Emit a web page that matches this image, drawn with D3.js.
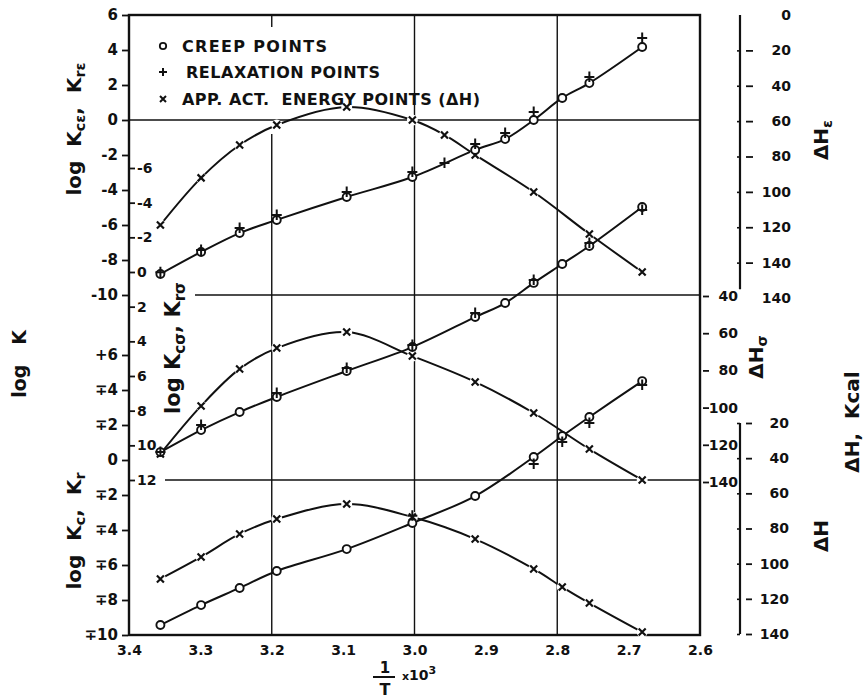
<!DOCTYPE html>
<html>
<head>
<meta charset="utf-8">
<script src="https://cdn.jsdelivr.net/npm/d3@7"></script>
<style>
  body { margin: 0; background: #fff; }
  svg text { font-family: "DejaVu Sans", sans-serif; font-weight: bold; fill: #111; white-space: pre; }
</style>
</head>
<body>
<svg id="chart" width="864" height="700"></svg>
<script>
// Inverse absolute temperature, (1/T) x 10^3
const invT = [3.356, 3.299, 3.245, 3.193, 3.095, 3.003, 2.958, 2.915, 2.873, 2.833, 2.793, 2.755, 2.681];

// Strain band: log K(c,eps), log K(r,eps) and apparent activation energy
const creepE = [-8.8, -7.54, -6.46, -5.71, -4.4, -3.26, null, -1.71, -1.09, 0, 1.26, 2.11, 4.17];
const relaxE = [-8.7, -7.43, -6.17, -5.43, -4.11, -2.97, -2.46, -1.37, -0.74, 0.46, null, 2.46, 4.69];
const dHE    = [118.7, 92.1, 73.5, 62.2, 52.0, 59.4, 67.8, 79.1, null, 100.1, null, 123.8, 145.3];

// Stress band: log K(c,sigma), log K(r,sigma) and apparent activation energy
const creepS = [10.39, 9.12, 8.08, 7.21, 5.71, 4.33, null, 2.60, 1.79, 0.63, -0.46, -1.5, -3.75];
const relaxS = [10.39, 8.83, null, 6.98, 5.54, 4.21, null, 2.37, null, 0.46, null, -1.67, -3.58];
const dHS    = [124.9, 99.1, 79.2, 68.0, 59.4, 72.3, null, 86.2, null, 102.9, null, 122.3, 138.9];

// Combined band: log Kc, log Kr and apparent activation energy
const creepB = [-9.43, -8.29, -7.31, -6.34, -5.09, -3.6, null, -2.06, null, 0.17, 1.37, 2.46, 4.51];
const relaxB = [null, null, null, null, null, -3.18, null, null, null, -0.23, 1.03, 2.11, 4.29];
const dHB    = [108.7, 96.2, 83.1, 74.6, 66.1, 73.5, null, 86.0, null, 103.0, 113.3, 122.4, 138.9];

// Tick values and labels
const xTicks = [3.4, 3.3, 3.2, 3.1, 3.0, 2.9, 2.8, 2.7, 2.6];
const xTickLabels = ["3.4", "3.3", "3.2", "3.1", "3.0", "2.9", "2.8", "2.7", "2.6"];
const gridX = [3.2, 3.0, 2.8];
const kETicks = [6, 4, 2, 0, -2, -4, -6, -8, -10];
const kETickLabels = ["6", "4", "2", "0", "-2", "-4", "-6", "-8", "-10"];
const kSTicks = [-6, -4, -2, 0, 2, 4, 6, 8, 10, 12];
const kSTickLabels = ["-6", "-4", "-2", "0", "2", "4", "6", "8", "10", "12"];
const kBTicks = [6, 4, 2, 0, -2, -4, -6, -8, -10];
const kBTickLabels = ["+6", "\u22134", "\u22132", "0", "\u22132", "\u22134", "\u22136", "\u22138", "\u221310"];
const hETicks = [0, 20, 40, 60, 80, 100, 120, 140, 160];
const hETickLabels = ["0", "20", "40", "60", "80", "100", "120", "140", "140"];
const hSTicks = [40, 60, 80, 100, 120, 140];
const hSTickLabels = ["40", "60", "80", "100", "120", "140"];
const hBTicks = [20, 40, 60, 80, 100, 120, 140];
const hBTickLabels = ["20", "40", "60", "80", "100", "120", "140"];
const legendLabels = ["CREEP POINTS", "RELAXATION POINTS", "APP. ACT.  ENERGY POINTS (\u0394H)"];

const ink = "#111";
const svg = d3.select("#chart");

// Scales
const x  = d3.scaleLinear().domain([3.4, 2.6]).range([129, 700]);
const yE = d3.scaleLinear().domain([6, -10]).range([15, 295]);
const yS = d3.scaleLinear().domain([0, 12]).range([272, 480]);
const yB = d3.scaleLinear().domain([6, -10]).range([355, 635]);
const hE = d3.scaleLinear().domain([0, 160]).range([15, 298]);
const hS = d3.scaleLinear().domain([40, 140]).range([296, 482]);
const hB = d3.scaleLinear().domain([20, 140]).range([423, 634]);

const L = x(3.4), R = x(2.6), T = yE(6), B = yB(-10);

// Grid lines
const grid = svg.append("g").attr("stroke", ink).attr("stroke-width", 1.4);
gridX.forEach(v => {
  const top = v === 3.2 ? yE(-0.8) : T;
  grid.append("line").attr("x1", x(v)).attr("x2", x(v)).attr("y1", top).attr("y2", B);
});
grid.append("line").attr("x1", x(3.2)).attr("x2", x(3.2)).attr("y1", T).attr("y2", T + 12);
grid.append("line").attr("x1", L).attr("x2", R).attr("y1", yE(0)).attr("y2", yE(0));
grid.append("line").attr("x1", 195).attr("x2", R).attr("y1", yE(-10)).attr("y2", yE(-10));
grid.append("line").attr("x1", 165).attr("x2", R).attr("y1", yS(12)).attr("y2", yS(12));

// Frame
svg.append("rect").attr("x", L).attr("y", T).attr("width", R - L).attr("height", B - T)
  .attr("fill", "none").attr("stroke", ink).attr("stroke-width", 2.4);

// Axis helper: draws ticks and labels with custom text
function styledAxis(axis, tx, ty, labels, opts) {
  const g = svg.append("g").attr("transform", `translate(${tx},${ty})`).call(axis);
  g.select(".domain").remove();
  g.selectAll("line").attr("stroke", ink).attr("stroke-width", opts.tickWidth || 1.8);
  g.selectAll("text").text((d, i) => labels[i])
    .attr("font-size", opts.size).attr("fill", ink)
    .style("font-family", '"DejaVu Sans", sans-serif').style("font-weight", "bold");
  if (opts.anchor) g.selectAll("text").attr("text-anchor", opts.anchor).attr("x", opts.tx);
  if (opts.tick) g.selectAll("line").attr("x1", opts.tick[0]).attr("x2", opts.tick[1]);
  if (opts.inner) {
    g.selectAll(".tick").append("line").attr("x1", -3).attr("x2", 0)
      .attr("stroke", ink).attr("stroke-width", 1.6);
  }
  return g;
}

// Bottom axis
styledAxis(d3.axisBottom(x).tickValues(xTicks).tickSize(0).tickPadding(10), 0, B, xTickLabels, {size: 14});

// Left axes
styledAxis(d3.axisLeft(yE).tickValues(kETicks).tickSize(6).tickPadding(4), L - 1, 0, kETickLabels, {size: 15});
styledAxis(d3.axisLeft(yB).tickValues(kBTicks).tickSize(6).tickPadding(4), L - 1, 0, kBTickLabels, {size: 15});
styledAxis(d3.axisRight(yS).tickValues(kSTicks).tickSize(6).tickPadding(2), L, 0, kSTickLabels, {size: 14});

// Right axes
const eAx = styledAxis(d3.axisRight(hE).tickValues(hETicks).tickSize(0), 740, 0, hETickLabels,
  {size: 14, anchor: "end", tx: 51, tick: [6, 13], inner: true});
eAx.selectAll(".tick").filter(d => d === 0 || d === 160).selectAll("line").remove();
svg.append("line").attr("x1", 740).attr("x2", 740).attr("y1", hE(0)).attr("y2", hE(155))
  .attr("stroke", ink).attr("stroke-width", 2.2);

styledAxis(d3.axisRight(hS).tickValues(hSTicks).tickSize(0), R, 0, hSTickLabels,
  {size: 14, anchor: "end", tx: 38, tick: [3, 9]});

styledAxis(d3.axisRight(hB).tickValues(hBTicks).tickSize(0), 740, 0, hBTickLabels,
  {size: 14, anchor: "end", tx: 49, tick: [6, 12], inner: true});
svg.append("line").attr("x1", 740).attr("x2", 740).attr("y1", hB(20)).attr("y2", hB(140))
  .attr("stroke", ink).attr("stroke-width", 2.2);

// Series curves
function pts(vals, scale) {
  return invT.map((t, i) => ({t, v: vals[i]})).filter(d => d.v != null)
    .map(d => [x(d.t), scale(d.v)]);
}
const curve = d3.line().curve(d3.curveCatmullRom.alpha(0.5));
const curves = svg.append("g").attr("fill", "none").attr("stroke", ink).attr("stroke-width", 2);
[[creepE, yE], [dHE, hE], [creepS, yS], [dHS, hS], [creepB, yB], [dHB, hB]].forEach(([vals, sc]) => {
  curves.append("path").attr("d", curve(pts(vals, sc)));
});

// Markers
const marks = svg.append("g");
function circles(vals, sc) {
  pts(vals, sc).forEach(([px, py]) => {
    marks.append("circle").attr("cx", px).attr("cy", py).attr("r", 4)
      .attr("fill", "#fff").attr("stroke", ink).attr("stroke-width", 1.9);
  });
}
function pluses(vals, sc) {
  pts(vals, sc).forEach(([px, py]) => {
    marks.append("path").attr("d", `M${px - 5},${py}H${px + 5}M${px},${py - 5.5}V${py + 5}`)
      .attr("stroke", ink).attr("stroke-width", 2).attr("fill", "none");
  });
}
function crosses(vals, sc) {
  pts(vals, sc).forEach(([px, py]) => {
    marks.append("circle").attr("cx", px).attr("cy", py).attr("r", 5.5).attr("fill", "#fff");
    marks.append("path").attr("d", `M${px - 3.5},${py - 3.5}L${px + 3.5},${py + 3.5}M${px - 3.5},${py + 3.5}L${px + 3.5},${py - 3.5}`)
      .attr("stroke", ink).attr("stroke-width", 2.2).attr("fill", "none");
  });
}
crosses(dHE, hE); crosses(dHS, hS); crosses(dHB, hB);
circles(creepE, yE); circles(creepS, yS); circles(creepB, yB);
pluses(relaxE, yE); pluses(relaxS, yS); pluses(relaxB, yB);

// Legend
const leg = svg.append("g");
const legY = [46, 72, 99];
const legX = 163;
leg.append("circle").attr("cx", legX).attr("cy", legY[0]).attr("r", 3.2)
  .attr("fill", "#fff").attr("stroke", ink).attr("stroke-width", 1.8);
leg.append("path").attr("d", `M${legX - 4},${legY[1]}H${legX + 4}M${legX},${legY[1] - 4}V${legY[1] + 4}`)
  .attr("stroke", ink).attr("stroke-width", 2);
leg.append("path").attr("d", `M${legX - 3},${legY[2] - 3}L${legX + 3},${legY[2] + 3}M${legX - 3},${legY[2] + 3}L${legX + 3},${legY[2] - 3}`)
  .attr("stroke", ink).attr("stroke-width", 2);
const legStart = [182, 186, 182];
const legLen = [145, 194, 298];
legendLabels.forEach((s, i) => {
  leg.append("text").attr("x", legStart[i]).attr("y", legY[i] + 6)
    .attr("font-size", 16).attr("textLength", legLen[i]).attr("lengthAdjust", "spacing").text(s);
});

// Rotated titles with subscripts
function rotTitle(cx, cy, parts, size) {
  const t = svg.append("text").attr("transform", `translate(${cx},${cy}) rotate(-90)`)
    .attr("text-anchor", "middle").attr("font-size", size).attr("dominant-baseline", "middle");
  let down = false;
  parts.forEach(p => {
    const sp = t.append("tspan").text(p.t);
    if (p.sub && !down) { sp.attr("dy", size * 0.3).attr("font-size", size * 0.72); down = true; }
    else if (p.sub) { sp.attr("font-size", size * 0.72); }
    else if (down) { sp.attr("dy", -size * 0.3); down = false; }
  });
  return t;
}
rotTitle(75, 129, [{t: "log  K"}, {t: "c\u03b5", sub: true}, {t: ",  K"}, {t: "r\u03b5", sub: true}], 20);
rotTitle(20, 364, [{t: "log   K"}], 19);
rotTitle(174, 348, [{t: "log K"}, {t: "c\u03c3", sub: true}, {t: ", K"}, {t: "r\u03c3", sub: true}], 21);
rotTitle(75, 531, [{t: "log  K"}, {t: "c", sub: true}, {t: ",  K"}, {t: "r", sub: true}], 20);
rotTitle(822, 140, [{t: "\u0394H"}, {t: "\u03b5", sub: true}], 20);
rotTitle(757, 357, [{t: "\u0394H"}, {t: "\u03c3", sub: true}], 20);
rotTitle(853, 422, [{t: "\u0394H,  Kcal"}], 20);
rotTitle(822, 536, [{t: "\u0394H"}], 20);

// X axis title: 1/T x 10^3
svg.append("text").attr("x", 385).attr("y", 673).attr("text-anchor", "middle").attr("font-size", 15).text("1");
svg.append("line").attr("x1", 373).attr("x2", 395).attr("y1", 677).attr("y2", 677).attr("stroke", ink).attr("stroke-width", 2);
svg.append("text").attr("x", 385).attr("y", 695).attr("text-anchor", "middle").attr("font-size", 16).text("T");
const xl = svg.append("text").attr("x", 402).attr("y", 680).attr("font-size", 14);
xl.append("tspan").attr("font-size", 11).text("x");
xl.append("tspan").text("10");
xl.append("tspan").attr("font-size", 11).attr("dy", -6).text("3");
</script>
</body>
</html>
